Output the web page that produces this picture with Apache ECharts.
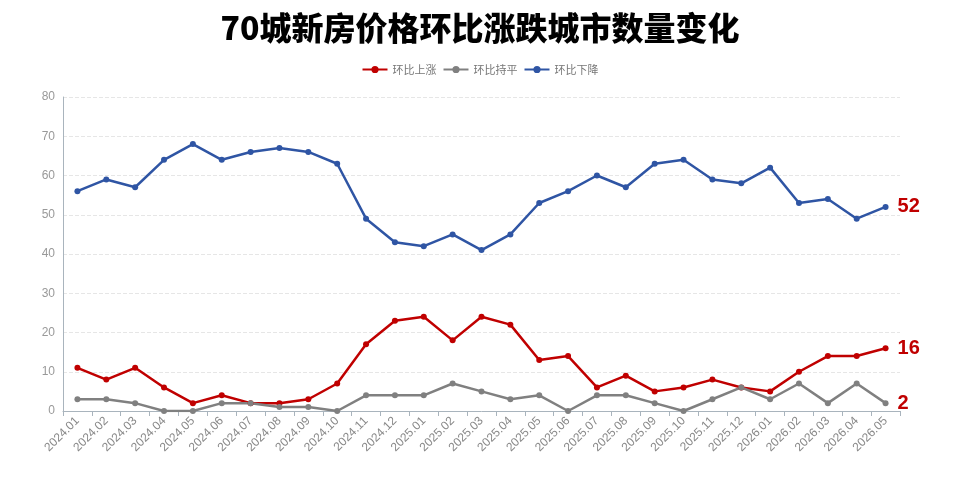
<!DOCTYPE html>
<html>
<head>
    <meta charset="utf-8">
    <title>ECharts</title>
    <script src="https://cdn.jsdelivr.net/npm/echarts@6.0.0/dist/echarts.min.js"></script>
</head>
<body style="margin:0;">
<div id="main" style="width:960px;height:496px;"></div>
<script type="text/javascript">
// 月份
var months = ['2024.01', '2024.02', '2024.03', '2024.04', '2024.05', '2024.06', '2024.07', '2024.08', '2024.09', '2024.10',
    '2024.11', '2024.12', '2025.01', '2025.02', '2025.03', '2025.04', '2025.05', '2025.06', '2025.07', '2025.08',
    '2025.09', '2025.10', '2025.11', '2025.12', '2026.01', '2026.02', '2026.03', '2026.04', '2026.05'];
// 环比上涨
var upData = [11, 8, 11, 6, 2, 4, 2, 2, 3, 7, 17, 23, 24, 18, 24, 22, 13, 14, 6, 9, 5, 6, 8, 6, 5, 10, 14, 14, 16];
// 环比持平
var flatData = [3, 3, 2, 0, 0, 2, 2, 1, 1, 0, 4, 4, 4, 7, 5, 3, 4, 0, 4, 4, 2, 0, 3, 6, 3, 7, 2, 7, 2];
// 环比下降
var downData = [56, 59, 57, 64, 68, 64, 66, 67, 66, 63, 49, 43, 42, 45, 41, 45, 53, 56, 60, 57, 63, 64, 59, 58, 62, 53, 54, 49, 52];

var myChart = echarts.init(document.getElementById('main'));

function lineSeries(name, data, color) {
    return {
        name: name,
        type: 'line',
        data: data,
        symbol: 'circle',
        symbolSize: 6,
        lineStyle: {width: 2.5, color: color},
        itemStyle: {color: color},
        endLabel: {
            show: true,
            color: '#c00000',
            fontSize: 20,
            fontWeight: 'bold',
            distance: 12,
            formatter: '{c}'
        }
    };
}

var option = {
    title: {
        text: '70城新房价格环比涨跌城市数量变化',
        left: 'center',
        top: 7,
        textStyle: {
            color: '#000',
            fontSize: 32,
            fontWeight: 900,
            fontFamily: 'Noto Sans CJK SC'
        }
    },
    legend: {
        top: 59,
        itemWidth: 25,
        itemHeight: 9,
        itemGap: 6,
        textStyle: {color: '#777', fontSize: 11, fontFamily: 'Noto Sans CJK SC'},
        data: ['环比上涨', '环比持平', '环比下降']
    },
    grid: {
        left: 63,
        right: 60,
        top: 97,
        bottom: 85
    },
    xAxis: {
        type: 'category',
        data: months,
        axisLine: {lineStyle: {color: '#a9b4bd'}},
        axisTick: {show: true, lineStyle: {color: '#a9b4bd'}},
        axisLabel: {rotate: 45, color: '#888', fontSize: 12, interval: 0}
    },
    yAxis: {
        type: 'value',
        min: 0,
        max: 80,
        interval: 10,
        axisLine: {show: true, lineStyle: {color: '#a9b4bd'}},
        axisLabel: {color: '#999', fontSize: 12},
        splitLine: {lineStyle: {type: 'dashed', color: '#e6e6e6'}}
    },
    series: [
        lineSeries('环比上涨', upData, '#c00000'),
        lineSeries('环比持平', flatData, '#808080'),
        lineSeries('环比下降', downData, '#2f55a4')
    ]
};

myChart.setOption(option);
</script>
</body>
</html>
